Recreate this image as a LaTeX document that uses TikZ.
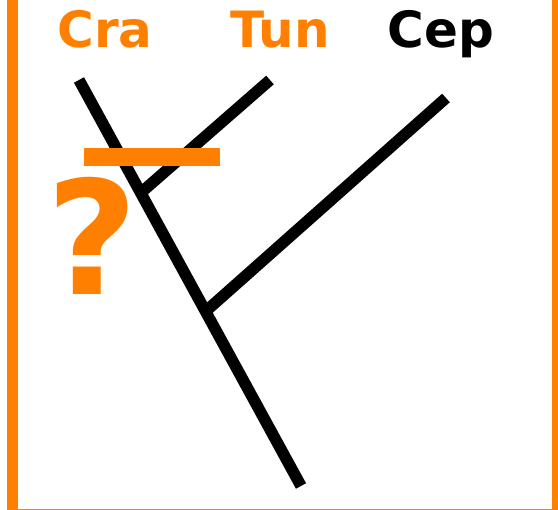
\documentclass[tikz,border=0pt]{standalone}
\usepackage{fontspec}
\setmainfont{DejaVu Sans}
\usetikzlibrary{calc}
\definecolor{treeorange}{RGB}{255,128,0}
\begin{document}
\begin{tikzpicture}[x=1pt, y=-1pt]

  \def\branchwidth{11.5pt}

  \useasboundingbox (0,0) rectangle (558,510);
  \clip (0,0) rectangle (558,510);

  % Frame (top side lies outside the picture)
  \draw[treeorange, line width=11pt] (12.5,-30) rectangle (557.5,515);

  % Taxon labels
  \node[anchor=base, font=\bfseries\fontsize{50}{50}\selectfont, text=treeorange, inner sep=0pt] (cra) at (105,48) {Cra};
  \node[anchor=base, font=\bfseries\fontsize{50}{50}\selectfont, text=treeorange, inner sep=0pt] (tun) at (280,48) {Tun};
  \node[anchor=base, font=\bfseries\fontsize{50}{50}\selectfont, text=black, inner sep=0pt] (cep) at (441,48) {Cep};

  % Tree tips and junctions
  \coordinate (craTip) at (79,80);
  \coordinate (tunTip) at (270,80);
  \coordinate (cepTip) at (446,98);
  \coordinate (root) at (301,486);
  \coordinate (jTun) at ($(craTip)!0.278!(root)$);
  \coordinate (jCep) at ($(craTip)!0.57!(root)$);

  % Branches
  \draw[line width=\branchwidth] (craTip) -- (root);
  \draw[line width=\branchwidth] (jTun) -- (tunTip);
  \draw[line width=\branchwidth] (jCep) -- (cepTip);

  % Uncertain node
  \coordinate (barL) at (84,157);
  \coordinate (barR) at (220,157);
  \draw[treeorange, line width=18pt] (barL) -- (barR);
  \node[anchor=base, font=\bfseries\fontsize{158}{158}\selectfont, text=treeorange, inner sep=0pt] (query) at (92,295) {?};

\end{tikzpicture}
\end{document}
